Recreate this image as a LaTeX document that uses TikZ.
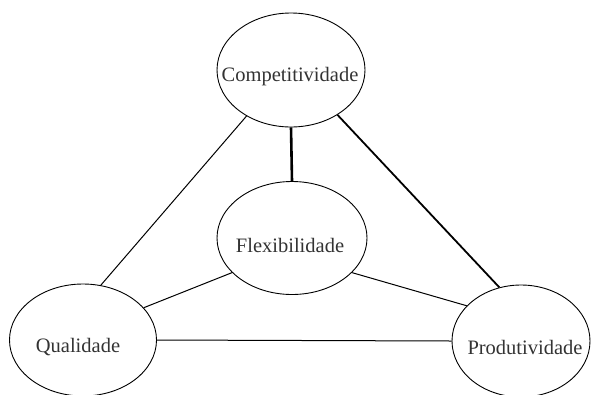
\documentclass[tikz,border=0pt]{standalone}
\usepackage{fontspec}
\setmainfont{Liberation Serif}
\usepackage{tikz}
\usetikzlibrary{shapes.geometric}
\tikzset{bubble/.style = {draw, ellipse, line width=0.9, inner sep=0,
                          fill=white}}
\tikzset{lbl/.style = {inner sep=0, text=black!80,
                       font=\fontsize{20.5}{24}\selectfont}}
\tikzset{link/.style = {draw, line width=1}}
\tikzset{heavy/.style = {draw, line width=1.8}}
\tikzset{heavier/.style = {draw, line width=2.6}}

\begin{document}
\begin{tikzpicture}[x=1pt, y=-1pt]
          \useasboundingbox (0, 0) rectangle (593, 394);
          \node [bubble, minimum width=148, minimum height=114] (comp) at (291, 70) {};
          \node [bubble, minimum width=150, minimum height=113] (flex) at (292, 238) {};
          \node [bubble, minimum width=147, minimum height=112] (qual) at (83, 340) {};
          \node [bubble, minimum width=138, minimum height=112] (prod) at (521, 341) {};

          \node [lbl] (comp-t) at (290, 77) {Competitividade};
          \node [lbl] (flex-t) at (290, 245) {Flexibilidade};
          \node [lbl] (qual-t) at (78, 347) {Qualidade};
          \node [lbl] (prod-t) at (525, 347) {Produtividade};

          \draw [heavier] (comp.270) -- (flex.90);
          \draw [heavy] (comp.316) -- (prod.112);
          \draw [link] (comp.226) -- (qual.72);
          \draw [link] (flex.210) -- (qual.28);
          \draw [link] (flex.330) -- (prod.147);
          \draw [link] (qual.0) -- (prod.180);
        \end{tikzpicture}
\end{document}
